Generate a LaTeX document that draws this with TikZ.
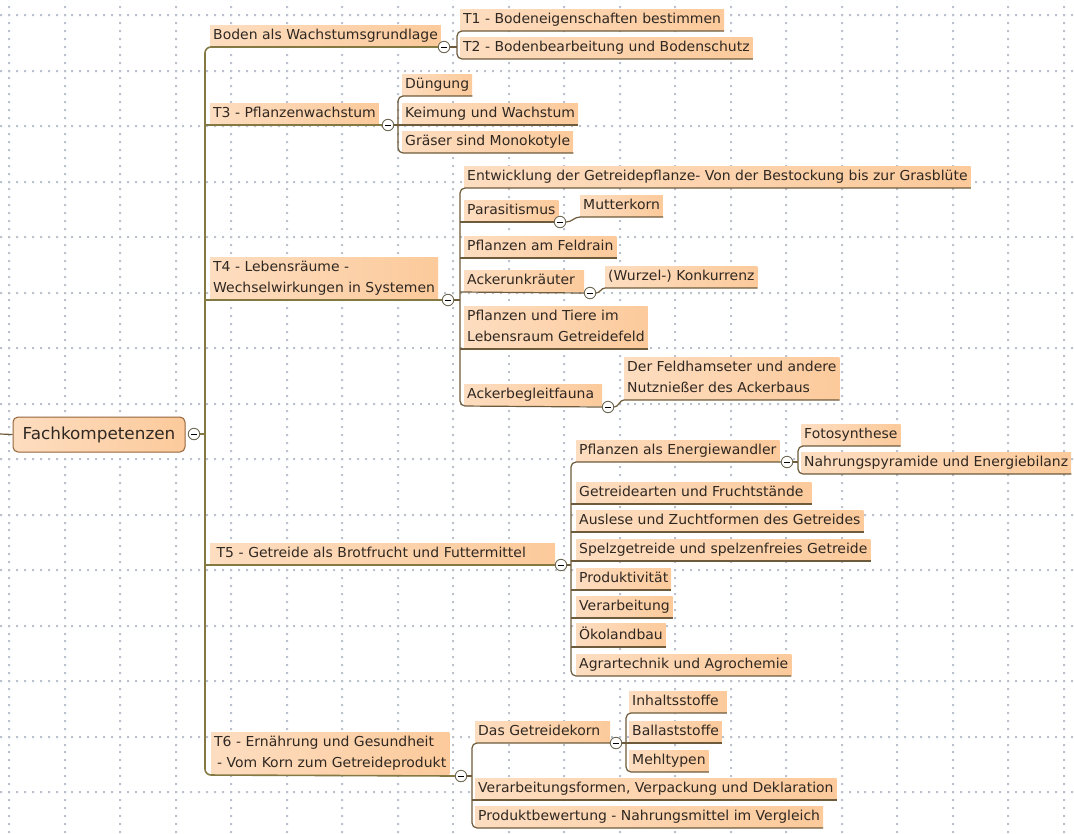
\documentclass[tikz,border=0pt]{standalone}
\usepackage{fontspec}
\setmainfont{DejaVu Sans}[FakeStretch=1.02]
\usetikzlibrary{calc}
\definecolor{gridc}{HTML}{BAC1CD}
\definecolor{linec}{HTML}{6E5B3B}
\definecolor{trunkc}{HTML}{857943}
\definecolor{peachL}{HTML}{FDDDC0}
\definecolor{peachR}{HTML}{FCCA9B}
\definecolor{txt}{HTML}{2F2822}
\definecolor{rootborder}{HTML}{94643A}
\definecolor{collc}{HTML}{6F6A55}
\newcommand\tst{\rule[-3.3pt]{0pt}{13.8pt}}
\begin{document}
\begin{tikzpicture}[x=1pt,y=-1pt,
  topic/.style={anchor=south west, inner xsep=3pt, inner ysep=3.6pt,
    left color=peachL, right color=peachR, text=txt, align=left,
    font=\fontsize{13.7}{21}\selectfont},
  root/.style={draw=rootborder, line width=1pt, rounded corners=5pt,
    left color=peachL, right color=peachR, text=txt,
    minimum width=172pt, minimum height=35pt,
    font=\fontsize{16.5}{20}\selectfont},
  coll/.style={circle, draw=collc, fill=white, line width=0.9pt,
    minimum size=11.5pt, inner sep=0pt},
  lc/.style={draw=linec, line width=1.2pt},
  bracket/.style={lc, rounded corners=5pt},
  trunk/.style={draw=trunkc, line width=1.6pt, rounded corners=6pt}
]
\useasboundingbox (0,0) rectangle (1074,833);
\fill[white] (0,0) rectangle (1074,833);

% dotted background grid, one column and one row of dots per grid line
\foreach \gcol in {0,...,19} {
  \pgfmathsetmacro\gx{round(9+55.5*\gcol)-1}
  \fill[gridc] \foreach \gk in {-2,...,105} {
    (\gx,{round(15+7.93*\gk)-1}) rectangle ++(2,2)
  };
}
\foreach \grow in {0,...,14} {
  \pgfmathsetmacro\gy{round(15+55.5*\grow)-1}
  \fill[gridc] \foreach \gk in {-2,...,135} {
    ({round(9+7.93*\gk)-1},\gy) rectangle ++(2,2)
  };
}

\newcommand\minus{\rule[-0.5pt]{6pt}{1pt}}

% central topic
\node[root] (root) at (99,434.5) {Fachkompetenzen};
\draw[lc] (0,434) -- (root.west);
\node[coll] (c0) at (194,434) {\minus};
\coordinate (tk) at (205,434);
\draw[trunk] (c0.east) -- (tk);

% main topics
\node[topic] (l1) at (210,47) {\tst Boden als Wachstumsgrundlage};
\node[topic] (l3) at (210,125) {\tst T3 - Pflanzenwachstum};
\node[topic] (l4) at (210,300) {\tst T4 - Lebensräume -\\\tst Wechselwirkungen in Systemen};
\node[topic, text width=339pt] (l5) at (210,565) {\tst\hspace*{3.5pt}T5 - Getreide als Brotfrucht und Futtermittel};
\node[topic] (l6) at (211,775) {\tst T6 - Ernährung und Gesundheit\\\tst\hspace*{3pt}- Vom Korn zum Getreideprodukt};

\node[coll] (c1) at (444,47) {\minus};
\node[coll] (c3) at (388,125) {\minus};
\node[coll] (c4) at (448,300) {\minus};
\node[coll] (c5) at (561,565) {\minus};
\node[coll] (c6) at (461,776) {\minus};

\draw[trunk] (c1.west) -- (l1.south west -| tk) -- (l6.south west -| tk) -- (c6.west);
\draw[trunk] (l3.south west -| tk) -- (c3.west);
\draw[trunk] (l4.south west -| tk) -- (c4.west);
\draw[trunk] (l5.south west -| tk) -- (c5.west);

% Boden als Wachstumsgrundlage
\coordinate (b1) at (457,47);
\node[topic] (t1) at (460,31) {\tst T1 - Bodeneigenschaften bestimmen};
\node[topic] (t2) at (460,59) {\tst T2 - Bodenbearbeitung und Bodenschutz};
\draw[lc] (c1.east) -- (b1);
\draw[bracket] (t1.south east) -- (t1.south west -| b1) -- (t2.south west -| b1) -- (t2.south east);

% T3
\coordinate (b3) at (398,125);
\node[topic] (t3a) at (402,96) {\tst Düngung};
\node[topic] (t3b) at (402,125) {\tst Keimung und Wachstum};
\node[topic] (t3c) at (402,153) {\tst Gräser sind Monokotyle};
\draw[lc] (c3.east) -- (b3);
\draw[bracket] (t3a.south east) -- (t3a.south west -| b3) -- (t3c.south west -| b3) -- (t3c.south east);
\draw[lc] (t3b.south west -| b3) -- (t3b.south east);

% T4
\coordinate (b4) at (460,300);
\node[topic] (t4a) at (464,188) {\tst Entwicklung der Getreidepflanze- Von der Bestockung bis zur Grasblüte};
\node[topic] (t4b) at (464,222) {\tst Parasitismus};
\node[topic] (t4c) at (464,258) {\tst Pflanzen am Feldrain};
\node[topic, text width=114pt] (t4d) at (464,292) {\tst Ackerunkräuter};
\node[topic] (t4e) at (464,349) {\tst Pflanzen und Tiere im\\\tst Lebensraum Getreidefeld};
\node[topic, text width=132pt] (t4f) at (464,406) {\tst Ackerbegleitfauna};
\node[coll] (cpa) at (560,222) {\minus};
\node[coll] (cak) at (590,293) {\minus};
\node[coll] (cab) at (608,407) {\minus};
\draw[lc] (c4.east) -- (b4);
\draw[bracket] (t4a.south east) -- (t4a.south west -| b4) -- (t4f.south west -| b4) -- (cab.west);
\draw[lc] (t4b.south west -| b4) -- (cpa.west);
\draw[lc] (t4c.south west -| b4) -- (t4c.south east);
\draw[lc] (t4d.south west -| b4) -- (cak.west);
\draw[lc] (t4e.south west -| b4) -- (t4e.south east);

\node[topic] (mk) at (580,217) {\tst Mutterkorn};
\draw[lc] (cpa.east) to[out=0,in=180] (mk.south west) -- (mk.south east);

\node[topic] (wk) at (605,288) {\tst (Wurzel-) Konkurrenz};
\draw[lc] (cak.east) to[out=0,in=180] (wk.south west) -- (wk.south east);

\node[topic] (fh) at (624,400) {\tst Der Feldhamseter und andere\\\tst Nutznießer des Ackerbaus};
\draw[lc] (cab.east) to[out=0,in=180] (fh.south west) -- (fh.south east);

% T5
\coordinate (b5) at (571,565);
\node[topic] (t5a) at (576,462) {\tst Pflanzen als Energiewandler};
\node[topic] (t5b) at (576,504) {\tst Getreidearten und Fruchtstände\hspace*{5pt}};
\node[topic] (t5c) at (576,532) {\tst Auslese und Zuchtformen des Getreides};
\node[topic] (t5d) at (576,561) {\tst Spelzgetreide und spelzenfreies Getreide};
\node[topic] (t5e) at (576,590) {\tst Produktivität};
\node[topic] (t5f) at (576,618) {\tst Verarbeitung};
\node[topic] (t5g) at (576,647) {\tst Ökolandbau};
\node[topic] (t5h) at (576,676) {\tst Agrartechnik und Agrochemie};
\node[coll] (cpe) at (787,462) {\minus};
\draw[lc] (c5.east) -- (b5);
\draw[bracket] (cpe.west) -- (t5a.south west -| b5) -- (t5h.south west -| b5) -- (t5h.south east);
\foreach \n in {t5b,t5c,t5d,t5e,t5f,t5g} \draw[lc] (\n.south west -| b5) -- (\n.south east);

\coordinate (be) at (798,462);
\node[topic] (fs) at (801,446) {\tst Fotosynthese};
\node[topic] (np) at (801,474) {\tst Nahrungspyramide und Energiebilanz};
\draw[lc] (cpe.east) -- (be);
\draw[bracket] (fs.south east) -- (fs.south west -| be) -- (np.south west -| be) -- (np.south east);

% T6
\coordinate (b6) at (472,776);
\node[topic, text width=129pt] (t6a) at (475,743) {\tst Das Getreidekorn};
\node[topic] (t6b) at (475,800) {\tst Verarbeitungsformen, Verpackung und Deklaration};
\node[topic] (t6c) at (475,828) {\tst Produktbewertung - Nahrungsmittel im Vergleich};
\node[coll] (cgk) at (616,743) {\minus};
\draw[lc] (c6.east) -- (b6);
\draw[bracket] (cgk.west) -- (t6a.south west -| b6) -- (t6c.south west -| b6) -- (t6c.south east);
\draw[lc] (t6b.south west -| b6) -- (t6b.south east);

\coordinate (bg) at (626,743);
\node[topic] (gk1) at (629,713) {\tst Inhaltsstoffe\hspace*{5pt}};
\node[topic] (gk2) at (629,743) {\tst Ballaststoffe};
\node[topic] (gk3) at (629,772) {\tst Mehltypen};
\draw[lc] (cgk.east) -- (bg);
\draw[bracket] (gk1.south east) -- (gk1.south west -| bg) -- (gk3.south west -| bg) -- (gk3.south east);
\draw[lc] (gk2.south west -| bg) -- (gk2.south east);
\end{tikzpicture}
\end{document}
